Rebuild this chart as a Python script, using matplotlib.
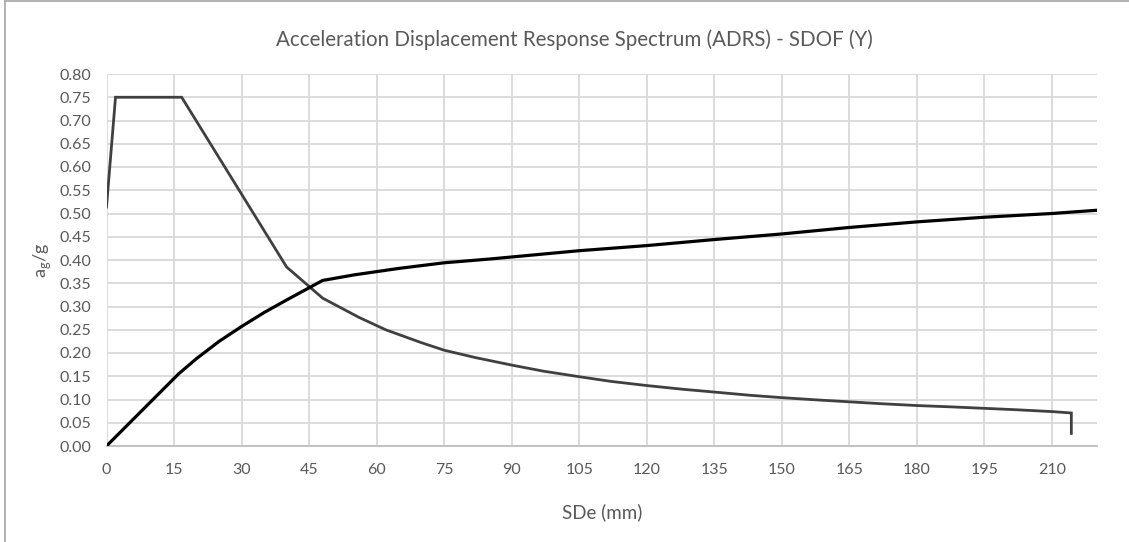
import matplotlib
matplotlib.use("Agg")
import matplotlib.pyplot as plt
from matplotlib.lines import Line2D

# Demand spectrum (elastic, reduced) in ADRS format
demand_sd = [0, 2, 16.7, 40, 48, 56, 62, 70, 75, 82, 90, 97, 105, 112, 120,
             128, 135, 143, 150, 158, 165, 172, 180, 188, 195, 202, 210, 214.3, 214.3]
demand_sa = [0.514, 0.75, 0.75, 0.385, 0.318, 0.277, 0.25, 0.222, 0.206, 0.19, 0.174,
             0.161, 0.149, 0.139, 0.130, 0.122, 0.116, 0.109, 0.104, 0.099, 0.095,
             0.091, 0.087, 0.084, 0.081, 0.078, 0.074, 0.071, 0.027]

# Capacity curve of the equivalent SDOF system
capacity_sd = [0, 16, 20, 25, 30, 35, 40, 44, 48, 55, 60, 65, 75, 85, 95, 105,
               120, 135, 150, 165, 180, 195, 210, 220]
capacity_sa = [0.0, 0.155, 0.188, 0.225, 0.257, 0.287, 0.314, 0.335, 0.356, 0.368,
               0.375, 0.382, 0.394, 0.402, 0.411, 0.420, 0.431, 0.444, 0.456, 0.470,
               0.482, 0.492, 0.500, 0.507]

x_ticks = list(range(0, 211, 15))
y_ticks = [round(0.05 * i, 2) for i in range(17)]

title = "Acceleration Displacement Response Spectrum (ADRS) - SDOF (Y)"
x_label = "SDe (mm)"
y_label = r"a$_\mathregular{g}$/g"

plt.rcParams["font.family"] = ["Lato", "DejaVu Sans"]
plt.rcParams["mathtext.fontset"] = "custom"
plt.rcParams["mathtext.rm"] = "Lato"

W, H = 1129, 542
fig = plt.figure(figsize=(W / 100, H / 100), dpi=100)
fig.patch.set_facecolor("white")

left, right, top, bottom = 106.5, 1097, 74, 446
ax = fig.add_axes([left / W, 1 - bottom / H, (right - left) / W, (bottom - top) / H])

grid_c = "#d9d9d9"
text_c = "#595959"

ax.plot(demand_sd, demand_sa, color="#404040", lw=2.0, solid_joinstyle="miter", zorder=3)
ax.plot(capacity_sd, capacity_sa, color="#000000", lw=2.3, zorder=3)

ax.set_xlim(0, 220)
ax.set_ylim(0, 0.80)
ax.set_xticks(x_ticks)
ax.set_yticks(y_ticks)
ax.set_yticklabels([f"{v:.2f}" for v in y_ticks])
ax.grid(True, color=grid_c, lw=1.3)
ax.set_axisbelow(True)
for s in ["top", "right", "left"]:
    ax.spines[s].set_visible(False)
ax.spines["bottom"].set_color("#bfbfbf")
ax.spines["bottom"].set_linewidth(1.3)
ax.tick_params(axis="both", length=0, labelsize=11.5, colors=text_c)
ax.tick_params(axis="x", pad=12)
ax.tick_params(axis="y", pad=11)

fig.text(574 / W, 1 - 40 / H, title, ha="center", va="center", fontsize=14.8, color=text_c)
fig.text(602 / W, 1 - 512 / H, x_label, ha="center", va="center", fontsize=13.5, color=text_c)
fig.text(42 / W, 1 - 260 / H, y_label, ha="center", va="center", fontsize=13,
         color=text_c, rotation=90)

# chart-area frame (left and top edges)
fig.add_artist(Line2D([5 / W, 5 / W], [0, 1 - 1 / H], transform=fig.transFigure,
                      color="#a6a6a6", lw=1.2))
fig.add_artist(Line2D([5 / W, 1], [1 - 1 / H, 1 - 1 / H], transform=fig.transFigure,
                      color="#a6a6a6", lw=1.2))

fig.savefig("out.png", dpi=100, facecolor="white")
